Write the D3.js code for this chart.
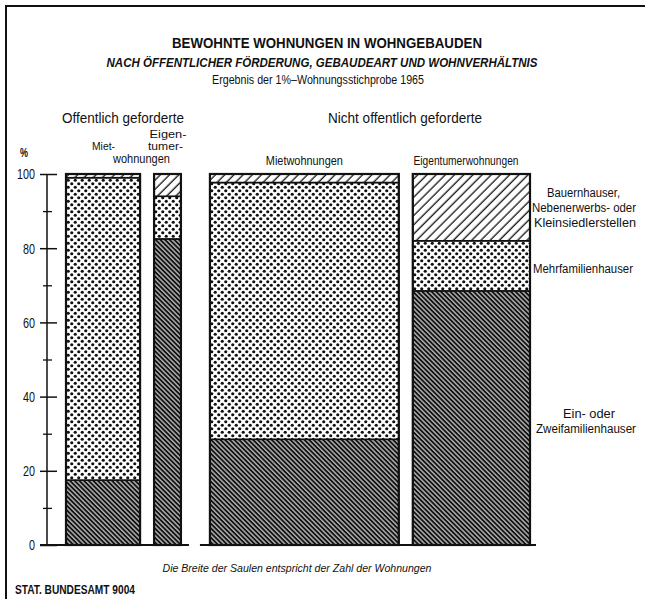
<!DOCTYPE html>
<html>
<head>
<meta charset="utf-8">
<script src="https://cdn.jsdelivr.net/npm/d3@7"></script>
<style>
  body { margin: 0; background: #fff; }
  text { font-family: "Liberation Sans", Arial, sans-serif; fill: #111; }
</style>
</head>
<body>
<div id="chart"></div>
<script>
// columns: Wohnverhältnis groups, width = share of all dwellings (%)
const columns = ["öff. Mietwohnungen", "öff. Eigentümerwohnungen", "nicht öff. Mietwohnungen", "nicht öff. Eigentümerwohnungen"];
const shares = [18.2, 6.6, 46.4, 28.8];

// building types (stack order bottom -> top)
const types = ["Ein- oder Zweifamilienhauser", "Mehrfamilienhauser", "Bauernhauser"];
const einZwei = [17.5, 82.5, 28.5, 68.5];
const mehr = [81.5, 11.5, 69.2, 13.5];
const bauern = [1.0, 6.0, 2.3, 18.0];

const yTicks = [0, 20, 40, 60, 80, 100];
const yMinor = [10, 30, 50, 70, 90];

const W = 645, H = 599;
const svg = d3.select("#chart").append("svg")
  .attr("width", W)
  .attr("height", H);

// patterns
const defs = svg.append("defs");
const dense = defs.append("pattern")
  .attr("id", "dense")
  .attr("patternUnits", "userSpaceOnUse")
  .attr("width", 3.3).attr("height", 3.3)
  .attr("patternTransform", "rotate(-45)");
dense.append("rect").attr("width", 3.3).attr("height", 3.3).attr("fill", "#111");
dense.append("line").attr("x1", 1.6).attr("x2", 1.6).attr("y1", 0).attr("y2", 3.3)
  .attr("stroke", "#fff").attr("stroke-width", 1);

const dots = defs.append("pattern")
  .attr("id", "dots")
  .attr("patternUnits", "userSpaceOnUse")
  .attr("width", 7).attr("height", 7);
dots.append("rect").attr("width", 7).attr("height", 7).attr("fill", "#fff");
dots.append("circle").attr("cx", 1.75).attr("cy", 1.75).attr("r", 1.6).attr("fill", "#111");
dots.append("circle").attr("cx", 5.25).attr("cy", 5.25).attr("r", 1.6).attr("fill", "#111");

const hatch = defs.append("pattern")
  .attr("id", "hatch")
  .attr("patternUnits", "userSpaceOnUse")
  .attr("width", 6.5).attr("height", 6.5)
  .attr("patternTransform", "rotate(45)");
hatch.append("rect").attr("width", 6.5).attr("height", 6.5).attr("fill", "#fff");
hatch.append("line").attr("x1", 3).attr("x2", 3).attr("y1", 0).attr("y2", 6.5)
  .attr("stroke", "#111").attr("stroke-width", 1.3);

const fills = ["url(#dense)", "url(#dots)", "url(#hatch)"];

// frame (top and left edges)
svg.append("path")
  .attr("d", `M6,${H} V6 H${W}`)
  .attr("fill", "none").attr("stroke", "#111").attr("stroke-width", 2);

// scales
const y = d3.scaleLinear().domain([0, 100]).range([545, 174]);
const wScale = d3.scaleLinear().domain([0, 100]).range([0, 407]);
const gaps = [0, 14, 29, 14];
const x0 = 66;

const data = columns.map((c, i) => ({
  key: c, share: shares[i],
  "Ein- oder Zweifamilienhauser": einZwei[i],
  "Mehrfamilienhauser": mehr[i],
  "Bauernhauser": bauern[i]
}));
let cum = x0;
data.forEach((d, i) => {
  cum += gaps[i];
  d.x = cum;
  d.w = wScale(d.share);
  cum += d.w;
});

const series = d3.stack().keys(types)(data);

// bars
svg.append("g").selectAll("g")
  .data(series)
  .join("g")
  .attr("fill", (s, i) => fills[i])
  .selectAll("rect")
  .data(s => s)
  .join("rect")
  .attr("x", d => d.data.x)
  .attr("width", d => d.data.w)
  .attr("y", d => y(d[1]))
  .attr("height", d => y(d[0]) - y(d[1]))
  .attr("stroke", "#111")
  .attr("stroke-width", 1.6);

// outline around each column
svg.append("g").selectAll("rect")
  .data(data)
  .join("rect")
  .attr("x", d => d.x)
  .attr("width", d => d.w)
  .attr("y", y(100))
  .attr("height", y(0) - y(100))
  .attr("fill", "none")
  .attr("stroke", "#111")
  .attr("stroke-width", 2.2);

// texts (condensed by fitting to the measured width)
function txt(str, x, yy, size, width, opts = {}) {
  const t = svg.append("text")
    .attr("x", x).attr("y", yy)
    .attr("font-size", size)
    .attr("text-anchor", opts.anchor || "middle")
    .attr("font-weight", opts.bold ? "bold" : null)
    .attr("font-style", opts.italic ? "italic" : null)
    .text(str);
  if (width) t.attr("textLength", width).attr("lengthAdjust", "spacingAndGlyphs");
  return t;
}

// y axis
const axisX = 47;
const yAxis = svg.append("g")
  .attr("transform", `translate(${axisX},0)`)
  .call(d3.axisLeft(y).tickValues(yTicks).tickSize(7).tickPadding(3));
yAxis.select(".domain").attr("stroke", "#111").attr("stroke-width", 1.5)
  .attr("d", `M0,${y(0)}V${y(100)}`);
yAxis.selectAll(".tick line").attr("x1", -7).attr("x2", 10)
  .attr("stroke", "#111").attr("stroke-width", 1.5);
yAxis.selectAll(".tick text")
  .attr("font-family", "Liberation Sans, sans-serif")
  .attr("font-size", 15).attr("fill", "#111").attr("x", -12)
  .attr("textLength", d => String(d).length * 6)
  .attr("lengthAdjust", "spacingAndGlyphs");

const yMinorAxis = svg.append("g")
  .attr("transform", `translate(${axisX},0)`)
  .call(d3.axisLeft(y).tickValues(yMinor).tickSize(4).tickFormat(""));
yMinorAxis.select(".domain").remove();
yMinorAxis.selectAll(".tick line").attr("x1", -4).attr("x2", 5)
  .attr("stroke", "#111").attr("stroke-width", 1.3);

// baseline segments
svg.append("line").attr("x1", 40).attr("x2", data[1].x + data[1].w + 8)
  .attr("y1", y(0)).attr("y2", y(0)).attr("stroke", "#111").attr("stroke-width", 2);
svg.append("line").attr("x1", data[2].x - 10).attr("x2", data[3].x + data[3].w + 6)
  .attr("y1", y(0)).attr("y2", y(0)).attr("stroke", "#111").attr("stroke-width", 2);

txt("BEWOHNTE WOHNUNGEN IN WOHNGEBAUDEN", 327, 48, 15, 310, { bold: true });
txt("NACH ÖFFENTLICHER FÖRDERUNG, GEBAUDEART UND WOHNVERHÄLTNIS", 322, 67, 13.5, 431, { bold: true, italic: true });
txt("Ergebnis der 1%–Wohnungsstichprobe 1965", 318, 84, 13, 212);

txt("Offentlich geforderte", 123, 123, 15, 122);
txt("Nicht offentlich geforderte", 405, 123, 15, 154);
txt("Eigen-", 168, 137.5, 11.5, 37);
txt("Miet-", 103.5, 150, 11.5, 23);
txt("tumer-", 165.5, 150, 11.5, 35);
txt("wohnungen", 141.5, 163, 12, 57);
txt("Mietwohnungen", data[2].x + data[2].w / 2, 165, 12.5, 77);
txt("Eigentumerwohnungen", 466, 165, 12.5, 105);
txt("%", 24, 157, 13, 8, { bold: true });

txt("Bauernhauser,", 583.5, 197, 12, 73);
txt("Nebenerwerbs- oder", 584, 212, 12, 104);
txt("Kleinsiedlerstellen", 585, 227, 12, 102);
txt("Mehrfamilienhauser", 583, 273, 12, 100);
txt("Ein- oder", 589, 418, 12, 52);
txt("Zweifamilienhauser", 586, 433, 12, 100);

txt("Die Breite der Saulen entspricht der Zahl der Wohnungen", 297, 572, 11.5, 269, { italic: true });
txt("STAT. BUNDESAMT 9004", 15, 594, 12, 120, { anchor: "start", bold: true });
</script>
</body>
</html>
